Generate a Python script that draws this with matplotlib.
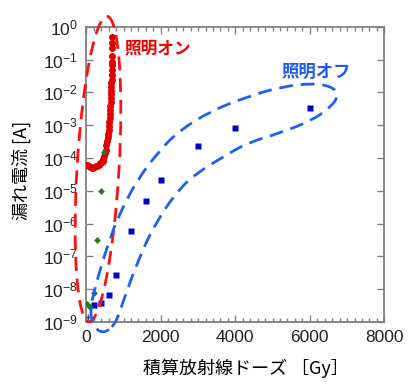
import matplotlib
matplotlib.use('Agg')
import matplotlib.pyplot as plt
from matplotlib.patches import Ellipse, PathPatch
from matplotlib.path import Path
from matplotlib.ticker import LogLocator, MultipleLocator, NullLocator, FuncFormatter
import numpy as np

plt.rcParams['font.family'] = ['Liberation Sans', 'Noto Sans CJK JP', 'DejaVu Sans']
plt.rcParams['mathtext.default'] = 'regular'

# illumination on (red circles)
on_dose = [690, 690, 690, 690, 690, 690,
           688, 685, 680, 676, 672, 668, 664, 659, 654, 648,
           642, 636, 628, 620, 610, 600, 588, 574, 558, 540,
           520, 498, 475, 455, 435, 410, 380, 340, 300, 260,
           220, 180, 140, 100, 60, 20]
on_current = [5.0e-1, 3.2e-1, 2.2e-1, 1.3e-1, 8.5e-2, 6.8e-2,
              4.8e-2, 3.4e-2, 2.4e-2, 1.9e-2, 1.45e-2, 1.1e-2, 8.7e-3, 6.6e-3, 5.0e-3, 3.8e-3,
              2.9e-3, 2.2e-3, 1.66e-3, 1.26e-3, 9.5e-4, 7.2e-4, 5.5e-4, 4.2e-4, 3.2e-4, 2.4e-4,
              1.8e-4, 1.4e-4, 1.12e-4, 9.5e-5, 8.3e-5, 7.6e-5, 6.8e-5, 6.2e-5, 5.8e-5, 5.5e-5,
              5.2e-5, 5.1e-5, 5.1e-5, 5.2e-5, 5.6e-5, 6.2e-5]

# green diamonds
mid_dose = [475, 395, 295, 215, 10, 100]
mid_current = [1.55e-4, 1.0e-5, 3.1e-7, 7.8e-9, 3.5e-9, 2.9e-9]

# illumination off (blue squares)
off_dose = [200, 400, 600, 800, 1200, 1600, 2000, 3000, 4000, 6000]
off_current = [3.3e-9, 3.7e-9, 6.6e-9, 2.75e-8, 6.0e-7, 5.0e-6, 2.1e-5, 2.3e-4, 8.3e-4, 3.4e-3]

xticks = [0, 2000, 4000, 6000, 8000]

W, H = 416, 389
fig = plt.figure(figsize=(W / 100, H / 100), dpi=100)
ax = fig.add_axes([86.3 / W, 1 - 322 / H, 298 / W, (322 - 26.7) / H])

ax.plot(on_dose, on_current, 'o', color='#e00000', ms=5, mec='none', zorder=3)
ax.plot(off_dose, off_current, 's', color='#0000cc', ms=5, mec='none', zorder=4)
ax.plot(mid_dose, mid_current, 'D', color='#1f7a1f', ms=3.5, mec='none', zorder=5)
ax.plot([40], [1.4e-9], '+', color='#4040a0', ms=5, mew=1, zorder=5)

ax.set_yscale('log')
ax.set_xlim(0, 8000)
ax.set_ylim(1e-9, 1e0)
ax.set_xticks(xticks)
ax.xaxis.set_minor_locator(MultipleLocator(200))
ax.yaxis.set_major_locator(LogLocator(base=10, numticks=20))
ax.yaxis.set_minor_locator(NullLocator())
ax.yaxis.set_major_formatter(FuncFormatter(lambda v, p: r'$10^{%d}$' % round(np.log10(v))))

gray = '#808080'
for s in ax.spines.values():
    s.set_color(gray)
    s.set_linewidth(1.3)
ax.tick_params(which='both', direction='in', top=True, right=True, color=gray,
               labelsize=12.5, labelcolor='#222222', width=1)
ax.tick_params(which='major', length=5, pad=6)
ax.tick_params(which='minor', length=3)

ax.set_xlabel('積算放射線ドーズ ［Gy］', fontsize=13, family=['Noto Sans CJK JP'])
ax.xaxis.set_label_coords(0.534, -0.125)
ax.set_ylabel('漏れ電流 [A]', fontsize=13, family=['Noto Sans CJK JP'])
ax.yaxis.set_label_coords(-0.185, 0.514)

# annotation overlay in pixel coordinates
ov = fig.add_axes([0, 0, 1, 1], zorder=10)
ov.set_xlim(0, W)
ov.set_ylim(H, 0)
ov.axis('off')
ov.patch.set_alpha(0)

red_ell = Ellipse((98, 169), 42, 306, angle=3.4, fill=False, ec='#ff1010', lw=2,
                  linestyle=(0, (5, 2.8)))
ov.add_patch(red_ell)

blue_pts = [(103, 334), (93, 326), (90, 310), (95, 287), (107, 247), (118, 217), (137, 180),
            (160, 150), (180, 130), (213, 110), (247, 97), (280, 87), (313, 83), (333, 87),
            (338, 95), (333, 105), (313, 120), (280, 133), (247, 143), (223, 157), (197, 173),
            (180, 188), (157, 220), (138, 260), (122, 305), (115, 325)]
n = len(blue_pts)
mids = [((blue_pts[i][0] + blue_pts[(i + 1) % n][0]) / 2, (blue_pts[i][1] + blue_pts[(i + 1) % n][1]) / 2)
        for i in range(n)]
verts = [mids[-1]]
codes = [Path.MOVETO]
for i in range(n):
    verts += [blue_pts[i], mids[i]]
    codes += [Path.CURVE3, Path.CURVE3]
ov.add_patch(PathPatch(Path(verts, codes), fill=False, ec='#2060f0', lw=2,
                       linestyle=(0, (5, 2.8))))

ov.text(124, 49, '照明オン', color='#ee0000', fontsize=12, weight='bold',
        family=['Noto Sans CJK JP'], va='center', ha='left')
ov.text(281, 72, '照明オフ', color='#1a5cf0', fontsize=12.5, weight='bold',
        family=['Noto Sans CJK JP'], va='center', ha='left')

fig.savefig('out.png', dpi=100)
